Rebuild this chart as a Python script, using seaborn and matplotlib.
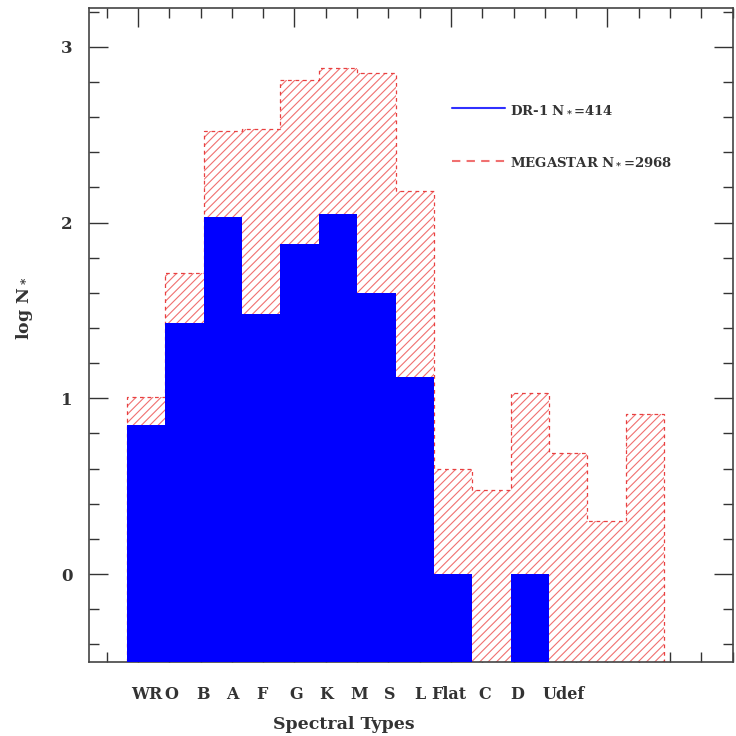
import numpy as np
import pandas as pd
import seaborn as sns
import matplotlib.pyplot as plt
from matplotlib.lines import Line2D
from matplotlib.ticker import FixedLocator

# log of star counts per spectral type
types = ['WR', 'O', 'B', 'A', 'F', 'G', 'K', 'M', 'S', 'L', 'Flat', 'C', 'D', 'Udef']
megastar = [1.01, 1.71, 2.52, 2.53, 2.81, 2.88, 2.85, 2.18, 0.60, 0.48, 1.03, 0.69, 0.30, 0.91]
dr1 = [0.85, 1.43, 2.03, 1.48, 1.88, 2.05, 1.60, 1.12, 0.0, np.nan, 0.0, np.nan, np.nan, np.nan]
# where the type names sit under the axis (they are shifted vs the bars in the original)
label_pos = [0.02, 0.65, 1.48, 2.24, 3.02, 3.91, 4.69, 5.55, 6.36, 7.14, 7.89, 8.83, 9.67, 10.89]

ylow, yhigh = -0.5, 3.22

sns.set_style('ticks')
plt.rcParams['font.family'] = ['DejaVu Serif']
plt.rcParams['font.weight'] = 'bold'
plt.rcParams['axes.labelweight'] = 'bold'
plt.rcParams['mathtext.fontset'] = 'dejavuserif'
plt.rcParams['hatch.linewidth'] = 0.8

df = pd.DataFrame({'type': types, 'mega': megastar, 'dr1': dr1})

fig = plt.figure(figsize=(7.36, 7.36), dpi=100)
ax = fig.add_axes([0.121, 0.1005, 0.875, 0.8886])

sns.barplot(data=df, x='type', y='mega', order=types, color='white', edgecolor='#f07070',
            hatch='////', linewidth=0, width=1.0, saturation=1, ax=ax, zorder=1)
sns.barplot(data=df, x='type', y='dr1', order=types, color='#0000ff', linewidth=0,
            width=1.0, saturation=1, ax=ax, zorder=3)

# bars run down to the bottom of the frame
for p in ax.patches:
    h = p.get_height()
    if np.isnan(h):
        continue
    p.set_y(ylow)
    p.set_height(h - ylow)

# dashed outline of the MEGASTAR histogram
edges = np.arange(len(types) + 1) - 0.5
ax.stairs(megastar, edges, baseline=ylow, color='#e84040', ls=(0, (3, 3)), lw=0.9, zorder=2)

ax.set_xlim(-1.49, 15.3)
ax.set_ylim(ylow, yhigh)

# plain tick marks on all four sides
ax.xaxis.set_major_locator(FixedLocator(-0.214 + 4.08 * np.arange(5)))
ax.xaxis.set_minor_locator(FixedLocator(-0.214 + 0.816 * np.arange(-1, 20)))
ax.yaxis.set_major_locator(FixedLocator([0, 1, 2, 3]))
ax.yaxis.set_minor_locator(FixedLocator(np.arange(-0.4, 3.3, 0.2)))
ax.tick_params(axis='both', which='both', direction='in', top=True, right=True,
               colors='#333333', width=1.0)
ax.tick_params(axis='both', which='major', length=14)
ax.tick_params(axis='both', which='minor', length=7.5)
ax.tick_params(axis='x', labelbottom=False)
ax.tick_params(axis='y', labelsize=12, pad=12, labelcolor='#333333')
for s in ax.spines.values():
    s.set_linewidth(1.2)
    s.set_color('#444444')

sec = ax.secondary_xaxis('bottom')
sec.set_xticks(label_pos, labels=types)
sec.tick_params(length=0, pad=17, labelsize=11.5, labelcolor='#333333')
sec.spines['bottom'].set_visible(False)

ax.set_xlabel('Spectral Types', fontsize=12.5, color='#333333')
ax.xaxis.set_label_coords(0.396, -0.083)
ax.set_ylabel('log N$_*$', fontsize=12.5, color='#333333')
ax.yaxis.set_label_coords(-0.084, 0.54)

handles = [Line2D([], [], color='#3030ff', lw=1.5),
           Line2D([], [], color='#f07070', lw=1.5, ls=(0, (4, 3)))]
ax.legend(handles, ['DR-1 N$_*$=414', 'MEGASTAR N$_*$=2968'], loc='upper left',
          bbox_to_anchor=(0.564, 0.855), frameon=False, fontsize=9.5, handlelength=4,
          handletextpad=0.4, labelspacing=3.0, borderpad=0, borderaxespad=0,
          labelcolor='#333333')

fig.savefig('out.png', dpi=100)
